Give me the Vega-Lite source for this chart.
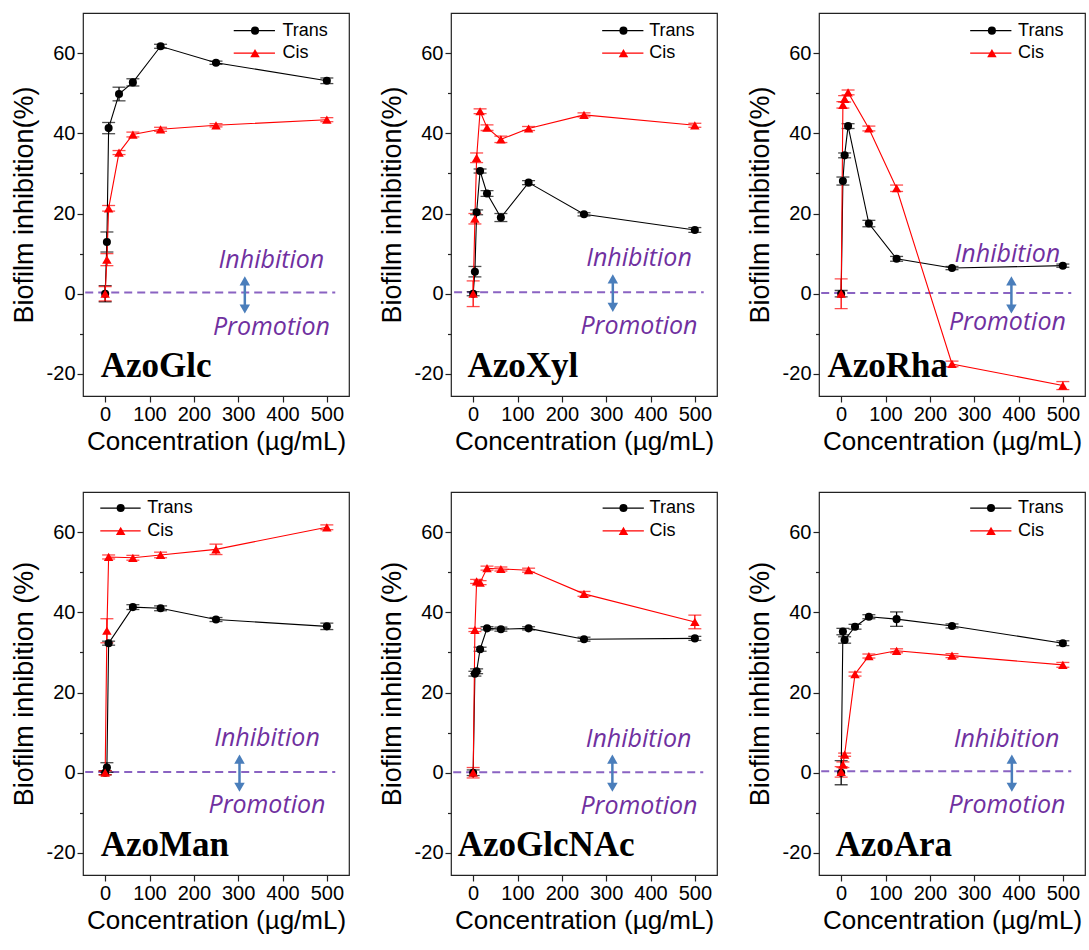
{
"$schema": "https://vega.github.io/schema/vega-lite/v6.json",
"background": "white",
"padding": {"left": 9, "top": 12, "right": 0, "bottom": 0},
"data": {"values": [{}]},
"datasets": {"d": [
{"panel":"AzoGlc","form":"Trans","conc":0,"val":0,"err":2.0},
{"panel":"AzoGlc","form":"Trans","conc":3.9,"val":12.9,"err":2.5},
{"panel":"AzoGlc","form":"Trans","conc":7.8,"val":41.3,"err":1.4},
{"panel":"AzoGlc","form":"Trans","conc":31.25,"val":49.8,"err":1.7},
{"panel":"AzoGlc","form":"Trans","conc":62.5,"val":52.7,"err":0.9},
{"panel":"AzoGlc","form":"Trans","conc":125,"val":61.7,"err":0.5},
{"panel":"AzoGlc","form":"Trans","conc":250,"val":57.6,"err":0.4},
{"panel":"AzoGlc","form":"Trans","conc":500,"val":53.1,"err":0.7},
{"panel":"AzoGlc","form":"Cis","conc":0,"val":0,"err":1.8},
{"panel":"AzoGlc","form":"Cis","conc":3.9,"val":8.5,"err":1.5},
{"panel":"AzoGlc","form":"Cis","conc":7.8,"val":21.3,"err":0.7},
{"panel":"AzoGlc","form":"Cis","conc":31.25,"val":35.2,"err":0.5},
{"panel":"AzoGlc","form":"Cis","conc":62.5,"val":39.7,"err":0.6},
{"panel":"AzoGlc","form":"Cis","conc":125,"val":41.0,"err":0.5},
{"panel":"AzoGlc","form":"Cis","conc":250,"val":42.0,"err":0.4},
{"panel":"AzoGlc","form":"Cis","conc":500,"val":43.4,"err":0.5},
{"panel":"AzoXyl","form":"Trans","conc":0,"val":0,"err":0.5},
{"panel":"AzoXyl","form":"Trans","conc":3.9,"val":5.5,"err":1.3},
{"panel":"AzoXyl","form":"Trans","conc":7.8,"val":20.3,"err":0.6},
{"panel":"AzoXyl","form":"Trans","conc":15.6,"val":30.6,"err":0.5},
{"panel":"AzoXyl","form":"Trans","conc":31.25,"val":25.0,"err":0.7},
{"panel":"AzoXyl","form":"Trans","conc":62.5,"val":19.0,"err":1.0},
{"panel":"AzoXyl","form":"Trans","conc":125,"val":27.7,"err":0.5},
{"panel":"AzoXyl","form":"Trans","conc":250,"val":19.8,"err":0.4},
{"panel":"AzoXyl","form":"Trans","conc":500,"val":15.9,"err":0.6},
{"panel":"AzoXyl","form":"Cis","conc":0,"val":0,"err":3.2},
{"panel":"AzoXyl","form":"Cis","conc":3.9,"val":18.7,"err":1.3},
{"panel":"AzoXyl","form":"Cis","conc":7.8,"val":33.9,"err":1.2},
{"panel":"AzoXyl","form":"Cis","conc":15.6,"val":45.5,"err":0.6},
{"panel":"AzoXyl","form":"Cis","conc":31.25,"val":41.4,"err":0.7},
{"panel":"AzoXyl","form":"Cis","conc":62.5,"val":38.5,"err":0.8},
{"panel":"AzoXyl","form":"Cis","conc":125,"val":41.2,"err":0.5},
{"panel":"AzoXyl","form":"Cis","conc":250,"val":44.6,"err":0.5},
{"panel":"AzoXyl","form":"Cis","conc":500,"val":42.0,"err":0.5},
{"panel":"AzoRha","form":"Trans","conc":0,"val":0,"err":0.8},
{"panel":"AzoRha","form":"Trans","conc":3.9,"val":28.1,"err":1.0},
{"panel":"AzoRha","form":"Trans","conc":7.8,"val":34.5,"err":0.6},
{"panel":"AzoRha","form":"Trans","conc":15.6,"val":41.8,"err":0.6},
{"panel":"AzoRha","form":"Trans","conc":62.5,"val":17.5,"err":0.8},
{"panel":"AzoRha","form":"Trans","conc":125,"val":8.7,"err":0.6},
{"panel":"AzoRha","form":"Trans","conc":250,"val":6.4,"err":0.4},
{"panel":"AzoRha","form":"Trans","conc":500,"val":7.0,"err":0.4},
{"panel":"AzoRha","form":"Cis","conc":0,"val":0,"err":3.7},
{"panel":"AzoRha","form":"Cis","conc":3.9,"val":47.1,"err":0.8},
{"panel":"AzoRha","form":"Cis","conc":7.8,"val":48.6,"err":0.8},
{"panel":"AzoRha","form":"Cis","conc":15.6,"val":50.2,"err":0.6},
{"panel":"AzoRha","form":"Cis","conc":62.5,"val":41.2,"err":0.6},
{"panel":"AzoRha","form":"Cis","conc":125,"val":26.3,"err":0.8},
{"panel":"AzoRha","form":"Cis","conc":250,"val":-17.5,"err":0.7},
{"panel":"AzoRha","form":"Cis","conc":500,"val":-22.9,"err":1.0},
{"panel":"AzoMan","form":"Trans","conc":0,"val":0,"err":0.5},
{"panel":"AzoMan","form":"Trans","conc":3.9,"val":1.3,"err":1.2},
{"panel":"AzoMan","form":"Trans","conc":7.8,"val":32.3,"err":0.5},
{"panel":"AzoMan","form":"Trans","conc":62.5,"val":41.3,"err":0.6},
{"panel":"AzoMan","form":"Trans","conc":125,"val":41.0,"err":0.6},
{"panel":"AzoMan","form":"Trans","conc":250,"val":38.2,"err":0.5},
{"panel":"AzoMan","form":"Trans","conc":500,"val":36.5,"err":0.8},
{"panel":"AzoMan","form":"Cis","conc":0,"val":0,"err":0.5},
{"panel":"AzoMan","form":"Cis","conc":3.9,"val":35.4,"err":3.0},
{"panel":"AzoMan","form":"Cis","conc":7.8,"val":53.8,"err":0.5},
{"panel":"AzoMan","form":"Cis","conc":62.5,"val":53.6,"err":0.6},
{"panel":"AzoMan","form":"Cis","conc":125,"val":54.3,"err":0.7},
{"panel":"AzoMan","form":"Cis","conc":250,"val":55.7,"err":1.3},
{"panel":"AzoMan","form":"Cis","conc":500,"val":61.2,"err":0.6},
{"panel":"AzoGlcNAc","form":"Trans","conc":0,"val":0,"err":0.7},
{"panel":"AzoGlcNAc","form":"Trans","conc":3.9,"val":24.7,"err":0.6},
{"panel":"AzoGlcNAc","form":"Trans","conc":7.8,"val":25.3,"err":0.6},
{"panel":"AzoGlcNAc","form":"Trans","conc":15.6,"val":30.8,"err":0.5},
{"panel":"AzoGlcNAc","form":"Trans","conc":31.25,"val":36.0,"err":0.4},
{"panel":"AzoGlcNAc","form":"Trans","conc":62.5,"val":35.8,"err":0.5},
{"panel":"AzoGlcNAc","form":"Trans","conc":125,"val":36.0,"err":0.4},
{"panel":"AzoGlcNAc","form":"Trans","conc":250,"val":33.3,"err":0.5},
{"panel":"AzoGlcNAc","form":"Trans","conc":500,"val":33.5,"err":0.5},
{"panel":"AzoGlcNAc","form":"Cis","conc":0,"val":0,"err":1.3},
{"panel":"AzoGlcNAc","form":"Cis","conc":3.9,"val":35.6,"err":0.4},
{"panel":"AzoGlcNAc","form":"Cis","conc":7.8,"val":47.7,"err":0.5},
{"panel":"AzoGlcNAc","form":"Cis","conc":15.6,"val":47.4,"err":0.5},
{"panel":"AzoGlcNAc","form":"Cis","conc":31.25,"val":51.0,"err":0.5},
{"panel":"AzoGlcNAc","form":"Cis","conc":62.5,"val":50.8,"err":0.5},
{"panel":"AzoGlcNAc","form":"Cis","conc":125,"val":50.5,"err":0.5},
{"panel":"AzoGlcNAc","form":"Cis","conc":250,"val":44.6,"err":0.6},
{"panel":"AzoGlcNAc","form":"Cis","conc":500,"val":37.6,"err":1.7},
{"panel":"AzoAra","form":"Trans","conc":0,"val":0,"err":3.0},
{"panel":"AzoAra","form":"Trans","conc":3.9,"val":35.2,"err":0.8},
{"panel":"AzoAra","form":"Trans","conc":7.8,"val":33.1,"err":0.8},
{"panel":"AzoAra","form":"Trans","conc":31.25,"val":36.4,"err":0.6},
{"panel":"AzoAra","form":"Trans","conc":62.5,"val":38.9,"err":0.5},
{"panel":"AzoAra","form":"Trans","conc":125,"val":38.3,"err":1.8},
{"panel":"AzoAra","form":"Trans","conc":250,"val":36.6,"err":0.5},
{"panel":"AzoAra","form":"Trans","conc":500,"val":32.3,"err":0.6},
{"panel":"AzoAra","form":"Cis","conc":0,"val":0.2,"err":1.3},
{"panel":"AzoAra","form":"Cis","conc":3.9,"val":2.0,"err":0.7},
{"panel":"AzoAra","form":"Cis","conc":7.8,"val":4.5,"err":0.4},
{"panel":"AzoAra","form":"Cis","conc":31.25,"val":24.6,"err":0.5},
{"panel":"AzoAra","form":"Cis","conc":62.5,"val":29.1,"err":0.5},
{"panel":"AzoAra","form":"Cis","conc":125,"val":30.4,"err":0.5},
{"panel":"AzoAra","form":"Cis","conc":250,"val":29.2,"err":0.5},
{"panel":"AzoAra","form":"Cis","conc":500,"val":26.9,"err":0.6}
]},
"spacing": 36,
"vconcat": [
{"hconcat": [
{"width": 266, "height": 383, "layer": [
 {"mark": {"type": "rule", "color": "#8A63C2", "strokeWidth": 2, "strokeDash": [8, 5]}, "encoding": {"x": {"datum": -45}, "x2": {"datum": 519}, "y": {"datum": 0.3}}},
 {"data": {"name": "d"}, "transform": [{"filter": "datum.panel === 'AzoGlc'"}], "mark": {"type": "errorbar", "ticks": {"size": 13}, "thickness": 1.3}, "encoding": {"x": {"field": "conc", "type": "quantitative", "title": "Concentration (µg/mL)", "scale": {"domain": [-50, 550], "nice": false}}, "y": {"field": "val", "type": "quantitative", "title": "Biofilm inhibition(%)", "scale": {"domain": [-25.5, 70], "nice": false}}, "yError": {"field": "err"}, "color": {"field": "form", "type": "nominal", "scale": {"domain": ["Trans", "Cis"], "range": ["#000000", "#FF0000"]}, "legend": null}}},
 {"data": {"name": "d"}, "transform": [{"filter": "datum.panel === 'AzoGlc'"}], "mark": {"type": "line", "strokeWidth": 1.1}, "encoding": {"x": {"field": "conc", "type": "quantitative", "title": "Concentration (µg/mL)", "scale": {"domain": [-50, 550], "nice": false}}, "y": {"field": "val", "type": "quantitative", "title": "Biofilm inhibition(%)", "scale": {"domain": [-25.5, 70], "nice": false}}, "color": {"field": "form", "type": "nominal", "scale": {"domain": ["Trans", "Cis"], "range": ["#000000", "#FF0000"]}, "legend": null}}},
 {"data": {"name": "d"}, "transform": [{"filter": "datum.panel === 'AzoGlc'"}], "mark": {"type": "point", "filled": true, "opacity": 1}, "encoding": {"x": {"field": "conc", "type": "quantitative", "scale": {"domain": [-50, 550], "nice": false}, "axis": {"title": "Concentration (µg/mL)", "values": [0, 50, 100, 150, 200, 250, 300, 350, 400, 450, 500], "labelOverlap": false, "labelExpr": "datum.value % 100 === 0 ? '' + datum.value : ''", "tickSize": {"condition": {"test": "datum.value % 100 === 0", "value": 6}, "value": 3.5}}}, "y": {"field": "val", "type": "quantitative", "scale": {"domain": [-25.5, 70], "nice": false}, "axis": {"title": "Biofilm inhibition(%)", "values": [-20, -10, 0, 10, 20, 30, 40, 50, 60], "labelExpr": "datum.value % 20 === 0 ? (datum.value < 0 ? '-' + abs(datum.value) : '' + datum.value) : ''", "tickSize": {"condition": {"test": "datum.value % 20 === 0", "value": 6}, "value": 3.5}}}, "color": {"field": "form", "type": "nominal", "scale": {"domain": ["Trans", "Cis"], "range": ["#000000", "#FF0000"]}, "legend": null}, "shape": {"field": "form", "type": "nominal", "scale": {"domain": ["Trans", "Cis"], "range": ["circle", "triangle-up"]}, "legend": null}, "size": {"field": "form", "type": "nominal", "scale": {"domain": ["Trans", "Cis"], "range": [65, 90]}, "legend": null}}},
 {"mark": {"type": "rule", "color": "#4A7EBB", "strokeWidth": 2.5}, "encoding": {"x": {"datum": 315}, "y": {"datum": 3}, "y2": {"datum": -3.6}}},
 {"mark": {"type": "point", "shape": "triangle-up", "filled": true, "opacity": 1, "color": "#4A7EBB", "size": 110}, "encoding": {"x": {"datum": 315}, "y": {"datum": 3.2}}},
 {"mark": {"type": "point", "shape": "triangle-down", "filled": true, "opacity": 1, "color": "#4A7EBB", "size": 110}, "encoding": {"x": {"datum": 315}, "y": {"datum": -3.8}}},
 {"mark": {"type": "text", "text": "Inhibition", "font": "Open Sans", "fontStyle": "italic", "fontSize": 25, "color": "#7030A0", "align": "center", "baseline": "middle"}, "encoding": {"x": {"datum": 375}, "y": {"datum": 8.3}}},
 {"mark": {"type": "text", "text": "Promotion", "font": "Open Sans", "fontStyle": "italic", "fontSize": 25, "color": "#7030A0", "align": "center", "baseline": "middle"}, "encoding": {"x": {"datum": 375}, "y": {"datum": -8.4}}},
 {"mark": {"type": "text", "text": "AzoGlc", "font": "Liberation Serif", "fontWeight": "bold", "fontSize": 35, "align": "left", "baseline": "alphabetic", "color": "#000000"}, "encoding": {"x": {"datum": -10}, "y": {"datum": -20.8}}},
 {"mark": {"type": "rule", "color": "#000000", "strokeWidth": 1.2}, "encoding": {"x": {"datum": 290}, "x2": {"datum": 383}, "y": {"datum": 65.6}}},
 {"mark": {"type": "point", "shape": "circle", "filled": true, "opacity": 1, "color": "#000000", "size": 65}, "encoding": {"x": {"datum": 338}, "y": {"datum": 65.6}}},
 {"mark": {"type": "text", "text": "Trans", "font": "Liberation Sans", "fontSize": 18, "align": "left", "baseline": "middle", "color": "#000000"}, "encoding": {"x": {"datum": 400}, "y": {"datum": 65.6}}},
 {"mark": {"type": "rule", "color": "#FF0000", "strokeWidth": 1.2}, "encoding": {"x": {"datum": 290}, "x2": {"datum": 383}, "y": {"datum": 60}}},
 {"mark": {"type": "point", "shape": "triangle-up", "filled": true, "opacity": 1, "color": "#FF0000", "size": 90}, "encoding": {"x": {"datum": 338}, "y": {"datum": 60}}},
 {"mark": {"type": "text", "text": "Cis", "font": "Liberation Sans", "fontSize": 18, "align": "left", "baseline": "middle", "color": "#000000"}, "encoding": {"x": {"datum": 400}, "y": {"datum": 60}}}
]},
{"width": 266, "height": 383, "layer": [
 {"mark": {"type": "rule", "color": "#8A63C2", "strokeWidth": 2, "strokeDash": [8, 5]}, "encoding": {"x": {"datum": -43}, "x2": {"datum": 520}, "y": {"datum": 0.4}}},
 {"data": {"name": "d"}, "transform": [{"filter": "datum.panel === 'AzoXyl'"}], "mark": {"type": "errorbar", "ticks": {"size": 13}, "thickness": 1.3}, "encoding": {"x": {"field": "conc", "type": "quantitative", "title": "Concentration (µg/mL)", "scale": {"domain": [-50, 550], "nice": false}}, "y": {"field": "val", "type": "quantitative", "title": "Biofilm inhibition(%)", "scale": {"domain": [-25.5, 70], "nice": false}}, "yError": {"field": "err"}, "color": {"field": "form", "type": "nominal", "scale": {"domain": ["Trans", "Cis"], "range": ["#000000", "#FF0000"]}, "legend": null}}},
 {"data": {"name": "d"}, "transform": [{"filter": "datum.panel === 'AzoXyl'"}], "mark": {"type": "line", "strokeWidth": 1.1}, "encoding": {"x": {"field": "conc", "type": "quantitative", "title": "Concentration (µg/mL)", "scale": {"domain": [-50, 550], "nice": false}}, "y": {"field": "val", "type": "quantitative", "title": "Biofilm inhibition(%)", "scale": {"domain": [-25.5, 70], "nice": false}}, "color": {"field": "form", "type": "nominal", "scale": {"domain": ["Trans", "Cis"], "range": ["#000000", "#FF0000"]}, "legend": null}}},
 {"data": {"name": "d"}, "transform": [{"filter": "datum.panel === 'AzoXyl'"}], "mark": {"type": "point", "filled": true, "opacity": 1}, "encoding": {"x": {"field": "conc", "type": "quantitative", "scale": {"domain": [-50, 550], "nice": false}, "axis": {"title": "Concentration (µg/mL)", "values": [0, 50, 100, 150, 200, 250, 300, 350, 400, 450, 500], "labelOverlap": false, "labelExpr": "datum.value % 100 === 0 ? '' + datum.value : ''", "tickSize": {"condition": {"test": "datum.value % 100 === 0", "value": 6}, "value": 3.5}}}, "y": {"field": "val", "type": "quantitative", "scale": {"domain": [-25.5, 70], "nice": false}, "axis": {"title": "Biofilm inhibition(%)", "values": [-20, -10, 0, 10, 20, 30, 40, 50, 60], "labelExpr": "datum.value % 20 === 0 ? (datum.value < 0 ? '-' + abs(datum.value) : '' + datum.value) : ''", "tickSize": {"condition": {"test": "datum.value % 20 === 0", "value": 6}, "value": 3.5}}}, "color": {"field": "form", "type": "nominal", "scale": {"domain": ["Trans", "Cis"], "range": ["#000000", "#FF0000"]}, "legend": null}, "shape": {"field": "form", "type": "nominal", "scale": {"domain": ["Trans", "Cis"], "range": ["circle", "triangle-up"]}, "legend": null}, "size": {"field": "form", "type": "nominal", "scale": {"domain": ["Trans", "Cis"], "range": [65, 90]}, "legend": null}}},
 {"mark": {"type": "rule", "color": "#4A7EBB", "strokeWidth": 2.5}, "encoding": {"x": {"datum": 315}, "y": {"datum": 3.5}, "y2": {"datum": -3.2}}},
 {"mark": {"type": "point", "shape": "triangle-up", "filled": true, "opacity": 1, "color": "#4A7EBB", "size": 110}, "encoding": {"x": {"datum": 315}, "y": {"datum": 3.7}}},
 {"mark": {"type": "point", "shape": "triangle-down", "filled": true, "opacity": 1, "color": "#4A7EBB", "size": 110}, "encoding": {"x": {"datum": 315}, "y": {"datum": -3.4}}},
 {"mark": {"type": "text", "text": "Inhibition", "font": "Open Sans", "fontStyle": "italic", "fontSize": 25, "color": "#7030A0", "align": "center", "baseline": "middle"}, "encoding": {"x": {"datum": 374}, "y": {"datum": 8.8}}},
 {"mark": {"type": "text", "text": "Promotion", "font": "Open Sans", "fontStyle": "italic", "fontSize": 25, "color": "#7030A0", "align": "center", "baseline": "middle"}, "encoding": {"x": {"datum": 374}, "y": {"datum": -8.0}}},
 {"mark": {"type": "text", "text": "AzoXyl", "font": "Liberation Serif", "fontWeight": "bold", "fontSize": 35, "align": "left", "baseline": "alphabetic", "color": "#000000"}, "encoding": {"x": {"datum": -13}, "y": {"datum": -20.8}}},
 {"mark": {"type": "rule", "color": "#000000", "strokeWidth": 1.2}, "encoding": {"x": {"datum": 291}, "x2": {"datum": 384}, "y": {"datum": 65.6}}},
 {"mark": {"type": "point", "shape": "circle", "filled": true, "opacity": 1, "color": "#000000", "size": 65}, "encoding": {"x": {"datum": 339}, "y": {"datum": 65.6}}},
 {"mark": {"type": "text", "text": "Trans", "font": "Liberation Sans", "fontSize": 18, "align": "left", "baseline": "middle", "color": "#000000"}, "encoding": {"x": {"datum": 397}, "y": {"datum": 65.6}}},
 {"mark": {"type": "rule", "color": "#FF0000", "strokeWidth": 1.2}, "encoding": {"x": {"datum": 291}, "x2": {"datum": 384}, "y": {"datum": 60}}},
 {"mark": {"type": "point", "shape": "triangle-up", "filled": true, "opacity": 1, "color": "#FF0000", "size": 90}, "encoding": {"x": {"datum": 339}, "y": {"datum": 60}}},
 {"mark": {"type": "text", "text": "Cis", "font": "Liberation Sans", "fontSize": 18, "align": "left", "baseline": "middle", "color": "#000000"}, "encoding": {"x": {"datum": 397}, "y": {"datum": 60}}}
]},
{"width": 266, "height": 383, "layer": [
 {"mark": {"type": "rule", "color": "#8A63C2", "strokeWidth": 2, "strokeDash": [8, 5]}, "encoding": {"x": {"datum": -45}, "x2": {"datum": 519}, "y": {"datum": 0.2}}},
 {"data": {"name": "d"}, "transform": [{"filter": "datum.panel === 'AzoRha'"}], "mark": {"type": "errorbar", "ticks": {"size": 13}, "thickness": 1.3}, "encoding": {"x": {"field": "conc", "type": "quantitative", "title": "Concentration (µg/mL)", "scale": {"domain": [-50, 550], "nice": false}}, "y": {"field": "val", "type": "quantitative", "title": "Biofilm inhibition(%)", "scale": {"domain": [-25.5, 70], "nice": false}}, "yError": {"field": "err"}, "color": {"field": "form", "type": "nominal", "scale": {"domain": ["Trans", "Cis"], "range": ["#000000", "#FF0000"]}, "legend": null}}},
 {"data": {"name": "d"}, "transform": [{"filter": "datum.panel === 'AzoRha'"}], "mark": {"type": "line", "strokeWidth": 1.1}, "encoding": {"x": {"field": "conc", "type": "quantitative", "title": "Concentration (µg/mL)", "scale": {"domain": [-50, 550], "nice": false}}, "y": {"field": "val", "type": "quantitative", "title": "Biofilm inhibition(%)", "scale": {"domain": [-25.5, 70], "nice": false}}, "color": {"field": "form", "type": "nominal", "scale": {"domain": ["Trans", "Cis"], "range": ["#000000", "#FF0000"]}, "legend": null}}},
 {"data": {"name": "d"}, "transform": [{"filter": "datum.panel === 'AzoRha'"}], "mark": {"type": "point", "filled": true, "opacity": 1}, "encoding": {"x": {"field": "conc", "type": "quantitative", "scale": {"domain": [-50, 550], "nice": false}, "axis": {"title": "Concentration (µg/mL)", "values": [0, 50, 100, 150, 200, 250, 300, 350, 400, 450, 500], "labelOverlap": false, "labelExpr": "datum.value % 100 === 0 ? '' + datum.value : ''", "tickSize": {"condition": {"test": "datum.value % 100 === 0", "value": 6}, "value": 3.5}}}, "y": {"field": "val", "type": "quantitative", "scale": {"domain": [-25.5, 70], "nice": false}, "axis": {"title": "Biofilm inhibition(%)", "values": [-20, -10, 0, 10, 20, 30, 40, 50, 60], "labelExpr": "datum.value % 20 === 0 ? (datum.value < 0 ? '-' + abs(datum.value) : '' + datum.value) : ''", "tickSize": {"condition": {"test": "datum.value % 20 === 0", "value": 6}, "value": 3.5}}}, "color": {"field": "form", "type": "nominal", "scale": {"domain": ["Trans", "Cis"], "range": ["#000000", "#FF0000"]}, "legend": null}, "shape": {"field": "form", "type": "nominal", "scale": {"domain": ["Trans", "Cis"], "range": ["circle", "triangle-up"]}, "legend": null}, "size": {"field": "form", "type": "nominal", "scale": {"domain": ["Trans", "Cis"], "range": [65, 90]}, "legend": null}}},
 {"mark": {"type": "rule", "color": "#4A7EBB", "strokeWidth": 2.5}, "encoding": {"x": {"datum": 384}, "y": {"datum": 3}, "y2": {"datum": -3.6}}},
 {"mark": {"type": "point", "shape": "triangle-up", "filled": true, "opacity": 1, "color": "#4A7EBB", "size": 110}, "encoding": {"x": {"datum": 384}, "y": {"datum": 3.2}}},
 {"mark": {"type": "point", "shape": "triangle-down", "filled": true, "opacity": 1, "color": "#4A7EBB", "size": 110}, "encoding": {"x": {"datum": 384}, "y": {"datum": -3.8}}},
 {"mark": {"type": "text", "text": "Inhibition", "font": "Open Sans", "fontStyle": "italic", "fontSize": 25, "color": "#7030A0", "align": "center", "baseline": "middle"}, "encoding": {"x": {"datum": 375}, "y": {"datum": 9.8}}},
 {"mark": {"type": "text", "text": "Promotion", "font": "Open Sans", "fontStyle": "italic", "fontSize": 25, "color": "#7030A0", "align": "center", "baseline": "middle"}, "encoding": {"x": {"datum": 375}, "y": {"datum": -7.0}}},
 {"mark": {"type": "text", "text": "AzoRha", "font": "Liberation Serif", "fontWeight": "bold", "fontSize": 35, "align": "left", "baseline": "alphabetic", "color": "#000000"}, "encoding": {"x": {"datum": -31}, "y": {"datum": -20.8}}},
 {"mark": {"type": "rule", "color": "#000000", "strokeWidth": 1.2}, "encoding": {"x": {"datum": 291}, "x2": {"datum": 384}, "y": {"datum": 65.6}}},
 {"mark": {"type": "point", "shape": "circle", "filled": true, "opacity": 1, "color": "#000000", "size": 65}, "encoding": {"x": {"datum": 340}, "y": {"datum": 65.6}}},
 {"mark": {"type": "text", "text": "Trans", "font": "Liberation Sans", "fontSize": 18, "align": "left", "baseline": "middle", "color": "#000000"}, "encoding": {"x": {"datum": 399}, "y": {"datum": 65.6}}},
 {"mark": {"type": "rule", "color": "#FF0000", "strokeWidth": 1.2}, "encoding": {"x": {"datum": 291}, "x2": {"datum": 384}, "y": {"datum": 60}}},
 {"mark": {"type": "point", "shape": "triangle-up", "filled": true, "opacity": 1, "color": "#FF0000", "size": 90}, "encoding": {"x": {"datum": 340}, "y": {"datum": 60}}},
 {"mark": {"type": "text", "text": "Cis", "font": "Liberation Sans", "fontSize": 18, "align": "left", "baseline": "middle", "color": "#000000"}, "encoding": {"x": {"datum": 399}, "y": {"datum": 60}}}
]}
], "spacing": 27},
{"hconcat": [
{"width": 266, "height": 383, "layer": [
 {"mark": {"type": "rule", "color": "#8A63C2", "strokeWidth": 2, "strokeDash": [8, 5]}, "encoding": {"x": {"datum": -45}, "x2": {"datum": 519}, "y": {"datum": 0.2}}},
 {"data": {"name": "d"}, "transform": [{"filter": "datum.panel === 'AzoMan'"}], "mark": {"type": "errorbar", "ticks": {"size": 13}, "thickness": 1.3}, "encoding": {"x": {"field": "conc", "type": "quantitative", "title": "Concentration (µg/mL)", "scale": {"domain": [-50, 550], "nice": false}}, "y": {"field": "val", "type": "quantitative", "title": "Biofilm inhibition (%)", "scale": {"domain": [-25.5, 70], "nice": false}}, "yError": {"field": "err"}, "color": {"field": "form", "type": "nominal", "scale": {"domain": ["Trans", "Cis"], "range": ["#000000", "#FF0000"]}, "legend": null}}},
 {"data": {"name": "d"}, "transform": [{"filter": "datum.panel === 'AzoMan'"}], "mark": {"type": "line", "strokeWidth": 1.1}, "encoding": {"x": {"field": "conc", "type": "quantitative", "title": "Concentration (µg/mL)", "scale": {"domain": [-50, 550], "nice": false}}, "y": {"field": "val", "type": "quantitative", "title": "Biofilm inhibition (%)", "scale": {"domain": [-25.5, 70], "nice": false}}, "color": {"field": "form", "type": "nominal", "scale": {"domain": ["Trans", "Cis"], "range": ["#000000", "#FF0000"]}, "legend": null}}},
 {"data": {"name": "d"}, "transform": [{"filter": "datum.panel === 'AzoMan'"}], "mark": {"type": "point", "filled": true, "opacity": 1}, "encoding": {"x": {"field": "conc", "type": "quantitative", "scale": {"domain": [-50, 550], "nice": false}, "axis": {"title": "Concentration (µg/mL)", "values": [0, 50, 100, 150, 200, 250, 300, 350, 400, 450, 500], "labelOverlap": false, "labelExpr": "datum.value % 100 === 0 ? '' + datum.value : ''", "tickSize": {"condition": {"test": "datum.value % 100 === 0", "value": 6}, "value": 3.5}}}, "y": {"field": "val", "type": "quantitative", "scale": {"domain": [-25.5, 70], "nice": false}, "axis": {"title": "Biofilm inhibition (%)", "values": [-20, -10, 0, 10, 20, 30, 40, 50, 60], "labelExpr": "datum.value % 20 === 0 ? (datum.value < 0 ? '-' + abs(datum.value) : '' + datum.value) : ''", "tickSize": {"condition": {"test": "datum.value % 20 === 0", "value": 6}, "value": 3.5}}}, "color": {"field": "form", "type": "nominal", "scale": {"domain": ["Trans", "Cis"], "range": ["#000000", "#FF0000"]}, "legend": null}, "shape": {"field": "form", "type": "nominal", "scale": {"domain": ["Trans", "Cis"], "range": ["circle", "triangle-up"]}, "legend": null}, "size": {"field": "form", "type": "nominal", "scale": {"domain": ["Trans", "Cis"], "range": [65, 90]}, "legend": null}}},
 {"mark": {"type": "rule", "color": "#4A7EBB", "strokeWidth": 2.5}, "encoding": {"x": {"datum": 303}, "y": {"datum": 3.2}, "y2": {"datum": -3.4}}},
 {"mark": {"type": "point", "shape": "triangle-up", "filled": true, "opacity": 1, "color": "#4A7EBB", "size": 110}, "encoding": {"x": {"datum": 303}, "y": {"datum": 3.4}}},
 {"mark": {"type": "point", "shape": "triangle-down", "filled": true, "opacity": 1, "color": "#4A7EBB", "size": 110}, "encoding": {"x": {"datum": 303}, "y": {"datum": -3.6}}},
 {"mark": {"type": "text", "text": "Inhibition", "font": "Open Sans", "fontStyle": "italic", "fontSize": 25, "color": "#7030A0", "align": "center", "baseline": "middle"}, "encoding": {"x": {"datum": 365}, "y": {"datum": 8.7}}},
 {"mark": {"type": "text", "text": "Promotion", "font": "Open Sans", "fontStyle": "italic", "fontSize": 25, "color": "#7030A0", "align": "center", "baseline": "middle"}, "encoding": {"x": {"datum": 365}, "y": {"datum": -8.1}}},
 {"mark": {"type": "text", "text": "AzoMan", "font": "Liberation Serif", "fontWeight": "bold", "fontSize": 35, "align": "left", "baseline": "alphabetic", "color": "#000000"}, "encoding": {"x": {"datum": -10}, "y": {"datum": -20.8}}},
 {"mark": {"type": "rule", "color": "#000000", "strokeWidth": 1.2}, "encoding": {"x": {"datum": -11}, "x2": {"datum": 80}, "y": {"datum": 66}}},
 {"mark": {"type": "point", "shape": "circle", "filled": true, "opacity": 1, "color": "#000000", "size": 65}, "encoding": {"x": {"datum": 35}, "y": {"datum": 66}}},
 {"mark": {"type": "text", "text": "Trans", "font": "Liberation Sans", "fontSize": 18, "align": "left", "baseline": "middle", "color": "#000000"}, "encoding": {"x": {"datum": 95}, "y": {"datum": 66}}},
 {"mark": {"type": "rule", "color": "#FF0000", "strokeWidth": 1.2}, "encoding": {"x": {"datum": -11}, "x2": {"datum": 80}, "y": {"datum": 60.3}}},
 {"mark": {"type": "point", "shape": "triangle-up", "filled": true, "opacity": 1, "color": "#FF0000", "size": 90}, "encoding": {"x": {"datum": 35}, "y": {"datum": 60.3}}},
 {"mark": {"type": "text", "text": "Cis", "font": "Liberation Sans", "fontSize": 18, "align": "left", "baseline": "middle", "color": "#000000"}, "encoding": {"x": {"datum": 95}, "y": {"datum": 60.3}}}
]},
{"width": 266, "height": 383, "layer": [
 {"mark": {"type": "rule", "color": "#8A63C2", "strokeWidth": 2, "strokeDash": [8, 5]}, "encoding": {"x": {"datum": -45}, "x2": {"datum": 519}, "y": {"datum": 0.1}}},
 {"data": {"name": "d"}, "transform": [{"filter": "datum.panel === 'AzoGlcNAc'"}], "mark": {"type": "errorbar", "ticks": {"size": 13}, "thickness": 1.3}, "encoding": {"x": {"field": "conc", "type": "quantitative", "title": "Concentration (µg/mL)", "scale": {"domain": [-50, 550], "nice": false}}, "y": {"field": "val", "type": "quantitative", "title": "Biofilm inhibition (%)", "scale": {"domain": [-25.5, 70], "nice": false}}, "yError": {"field": "err"}, "color": {"field": "form", "type": "nominal", "scale": {"domain": ["Trans", "Cis"], "range": ["#000000", "#FF0000"]}, "legend": null}}},
 {"data": {"name": "d"}, "transform": [{"filter": "datum.panel === 'AzoGlcNAc'"}], "mark": {"type": "line", "strokeWidth": 1.1}, "encoding": {"x": {"field": "conc", "type": "quantitative", "title": "Concentration (µg/mL)", "scale": {"domain": [-50, 550], "nice": false}}, "y": {"field": "val", "type": "quantitative", "title": "Biofilm inhibition (%)", "scale": {"domain": [-25.5, 70], "nice": false}}, "color": {"field": "form", "type": "nominal", "scale": {"domain": ["Trans", "Cis"], "range": ["#000000", "#FF0000"]}, "legend": null}}},
 {"data": {"name": "d"}, "transform": [{"filter": "datum.panel === 'AzoGlcNAc'"}], "mark": {"type": "point", "filled": true, "opacity": 1}, "encoding": {"x": {"field": "conc", "type": "quantitative", "scale": {"domain": [-50, 550], "nice": false}, "axis": {"title": "Concentration (µg/mL)", "values": [0, 50, 100, 150, 200, 250, 300, 350, 400, 450, 500], "labelOverlap": false, "labelExpr": "datum.value % 100 === 0 ? '' + datum.value : ''", "tickSize": {"condition": {"test": "datum.value % 100 === 0", "value": 6}, "value": 3.5}}}, "y": {"field": "val", "type": "quantitative", "scale": {"domain": [-25.5, 70], "nice": false}, "axis": {"title": "Biofilm inhibition (%)", "values": [-20, -10, 0, 10, 20, 30, 40, 50, 60], "labelExpr": "datum.value % 20 === 0 ? (datum.value < 0 ? '-' + abs(datum.value) : '' + datum.value) : ''", "tickSize": {"condition": {"test": "datum.value % 20 === 0", "value": 6}, "value": 3.5}}}, "color": {"field": "form", "type": "nominal", "scale": {"domain": ["Trans", "Cis"], "range": ["#000000", "#FF0000"]}, "legend": null}, "shape": {"field": "form", "type": "nominal", "scale": {"domain": ["Trans", "Cis"], "range": ["circle", "triangle-up"]}, "legend": null}, "size": {"field": "form", "type": "nominal", "scale": {"domain": ["Trans", "Cis"], "range": [65, 90]}, "legend": null}}},
 {"mark": {"type": "rule", "color": "#4A7EBB", "strokeWidth": 2.5}, "encoding": {"x": {"datum": 314}, "y": {"datum": 3.2}, "y2": {"datum": -3.4}}},
 {"mark": {"type": "point", "shape": "triangle-up", "filled": true, "opacity": 1, "color": "#4A7EBB", "size": 110}, "encoding": {"x": {"datum": 314}, "y": {"datum": 3.4}}},
 {"mark": {"type": "point", "shape": "triangle-down", "filled": true, "opacity": 1, "color": "#4A7EBB", "size": 110}, "encoding": {"x": {"datum": 314}, "y": {"datum": -3.6}}},
 {"mark": {"type": "text", "text": "Inhibition", "font": "Open Sans", "fontStyle": "italic", "fontSize": 25, "color": "#7030A0", "align": "center", "baseline": "middle"}, "encoding": {"x": {"datum": 373}, "y": {"datum": 8.4}}},
 {"mark": {"type": "text", "text": "Promotion", "font": "Open Sans", "fontStyle": "italic", "fontSize": 25, "color": "#7030A0", "align": "center", "baseline": "middle"}, "encoding": {"x": {"datum": 374}, "y": {"datum": -8.3}}},
 {"mark": {"type": "text", "text": "AzoGlcNAc", "font": "Liberation Serif", "fontWeight": "bold", "fontSize": 35, "align": "left", "baseline": "alphabetic", "color": "#000000"}, "encoding": {"x": {"datum": -35}, "y": {"datum": -20.8}}},
 {"mark": {"type": "rule", "color": "#000000", "strokeWidth": 1.2}, "encoding": {"x": {"datum": 292}, "x2": {"datum": 385}, "y": {"datum": 66}}},
 {"mark": {"type": "point", "shape": "circle", "filled": true, "opacity": 1, "color": "#000000", "size": 65}, "encoding": {"x": {"datum": 339}, "y": {"datum": 66}}},
 {"mark": {"type": "text", "text": "Trans", "font": "Liberation Sans", "fontSize": 18, "align": "left", "baseline": "middle", "color": "#000000"}, "encoding": {"x": {"datum": 398}, "y": {"datum": 66}}},
 {"mark": {"type": "rule", "color": "#FF0000", "strokeWidth": 1.2}, "encoding": {"x": {"datum": 292}, "x2": {"datum": 385}, "y": {"datum": 60.3}}},
 {"mark": {"type": "point", "shape": "triangle-up", "filled": true, "opacity": 1, "color": "#FF0000", "size": 90}, "encoding": {"x": {"datum": 339}, "y": {"datum": 60.3}}},
 {"mark": {"type": "text", "text": "Cis", "font": "Liberation Sans", "fontSize": 18, "align": "left", "baseline": "middle", "color": "#000000"}, "encoding": {"x": {"datum": 398}, "y": {"datum": 60.3}}}
]},
{"width": 266, "height": 383, "layer": [
 {"mark": {"type": "rule", "color": "#8A63C2", "strokeWidth": 2, "strokeDash": [8, 5]}, "encoding": {"x": {"datum": -45}, "x2": {"datum": 519}, "y": {"datum": 0.4}}},
 {"data": {"name": "d"}, "transform": [{"filter": "datum.panel === 'AzoAra'"}], "mark": {"type": "errorbar", "ticks": {"size": 13}, "thickness": 1.3}, "encoding": {"x": {"field": "conc", "type": "quantitative", "title": "Concentration (µg/mL)", "scale": {"domain": [-50, 550], "nice": false}}, "y": {"field": "val", "type": "quantitative", "title": "Biofilm inhibition (%)", "scale": {"domain": [-25.5, 70], "nice": false}}, "yError": {"field": "err"}, "color": {"field": "form", "type": "nominal", "scale": {"domain": ["Trans", "Cis"], "range": ["#000000", "#FF0000"]}, "legend": null}}},
 {"data": {"name": "d"}, "transform": [{"filter": "datum.panel === 'AzoAra'"}], "mark": {"type": "line", "strokeWidth": 1.1}, "encoding": {"x": {"field": "conc", "type": "quantitative", "title": "Concentration (µg/mL)", "scale": {"domain": [-50, 550], "nice": false}}, "y": {"field": "val", "type": "quantitative", "title": "Biofilm inhibition (%)", "scale": {"domain": [-25.5, 70], "nice": false}}, "color": {"field": "form", "type": "nominal", "scale": {"domain": ["Trans", "Cis"], "range": ["#000000", "#FF0000"]}, "legend": null}}},
 {"data": {"name": "d"}, "transform": [{"filter": "datum.panel === 'AzoAra'"}], "mark": {"type": "point", "filled": true, "opacity": 1}, "encoding": {"x": {"field": "conc", "type": "quantitative", "scale": {"domain": [-50, 550], "nice": false}, "axis": {"title": "Concentration (µg/mL)", "values": [0, 50, 100, 150, 200, 250, 300, 350, 400, 450, 500], "labelOverlap": false, "labelExpr": "datum.value % 100 === 0 ? '' + datum.value : ''", "tickSize": {"condition": {"test": "datum.value % 100 === 0", "value": 6}, "value": 3.5}}}, "y": {"field": "val", "type": "quantitative", "scale": {"domain": [-25.5, 70], "nice": false}, "axis": {"title": "Biofilm inhibition (%)", "values": [-20, -10, 0, 10, 20, 30, 40, 50, 60], "labelExpr": "datum.value % 20 === 0 ? (datum.value < 0 ? '-' + abs(datum.value) : '' + datum.value) : ''", "tickSize": {"condition": {"test": "datum.value % 20 === 0", "value": 6}, "value": 3.5}}}, "color": {"field": "form", "type": "nominal", "scale": {"domain": ["Trans", "Cis"], "range": ["#000000", "#FF0000"]}, "legend": null}, "shape": {"field": "form", "type": "nominal", "scale": {"domain": ["Trans", "Cis"], "range": ["circle", "triangle-up"]}, "legend": null}, "size": {"field": "form", "type": "nominal", "scale": {"domain": ["Trans", "Cis"], "range": [65, 90]}, "legend": null}}},
 {"mark": {"type": "rule", "color": "#4A7EBB", "strokeWidth": 2.5}, "encoding": {"x": {"datum": 385}, "y": {"datum": 3.2}, "y2": {"datum": -3.4}}},
 {"mark": {"type": "point", "shape": "triangle-up", "filled": true, "opacity": 1, "color": "#4A7EBB", "size": 110}, "encoding": {"x": {"datum": 385}, "y": {"datum": 3.4}}},
 {"mark": {"type": "point", "shape": "triangle-down", "filled": true, "opacity": 1, "color": "#4A7EBB", "size": 110}, "encoding": {"x": {"datum": 385}, "y": {"datum": -3.6}}},
 {"mark": {"type": "text", "text": "Inhibition", "font": "Open Sans", "fontStyle": "italic", "fontSize": 25, "color": "#7030A0", "align": "center", "baseline": "middle"}, "encoding": {"x": {"datum": 373}, "y": {"datum": 8.4}}},
 {"mark": {"type": "text", "text": "Promotion", "font": "Open Sans", "fontStyle": "italic", "fontSize": 25, "color": "#7030A0", "align": "center", "baseline": "middle"}, "encoding": {"x": {"datum": 374}, "y": {"datum": -8.1}}},
 {"mark": {"type": "text", "text": "AzoAra", "font": "Liberation Serif", "fontWeight": "bold", "fontSize": 35, "align": "left", "baseline": "alphabetic", "color": "#000000"}, "encoding": {"x": {"datum": -13}, "y": {"datum": -20.8}}},
 {"mark": {"type": "rule", "color": "#000000", "strokeWidth": 1.2}, "encoding": {"x": {"datum": 291}, "x2": {"datum": 384}, "y": {"datum": 66}}},
 {"mark": {"type": "point", "shape": "circle", "filled": true, "opacity": 1, "color": "#000000", "size": 65}, "encoding": {"x": {"datum": 338}, "y": {"datum": 66}}},
 {"mark": {"type": "text", "text": "Trans", "font": "Liberation Sans", "fontSize": 18, "align": "left", "baseline": "middle", "color": "#000000"}, "encoding": {"x": {"datum": 399}, "y": {"datum": 66}}},
 {"mark": {"type": "rule", "color": "#FF0000", "strokeWidth": 1.2}, "encoding": {"x": {"datum": 291}, "x2": {"datum": 384}, "y": {"datum": 60.3}}},
 {"mark": {"type": "point", "shape": "triangle-up", "filled": true, "opacity": 1, "color": "#FF0000", "size": 90}, "encoding": {"x": {"datum": 338}, "y": {"datum": 60.3}}},
 {"mark": {"type": "text", "text": "Cis", "font": "Liberation Sans", "fontSize": 18, "align": "left", "baseline": "middle", "color": "#000000"}, "encoding": {"x": {"datum": 399}, "y": {"datum": 60.3}}}
]}
], "spacing": 27}
],
"config": {
 "view": {"stroke": "#222222", "strokeWidth": 1.2},
 "axis": {"grid": false, "domain": false, "labelFont": "Liberation Sans", "labelFontSize": 20, "labelColor": "#000000", "labelPadding": 2, "titleFont": "Liberation Sans", "titleFontSize": 26, "titleFontWeight": "normal", "titleColor": "#000000", "titlePadding": 8, "tickColor": "#222222", "tickWidth": 1.2},
 "axisX": {"titlePadding": 4},
 "axisY": {"titleFontSize": 27, "titlePadding": 8}
}
}
